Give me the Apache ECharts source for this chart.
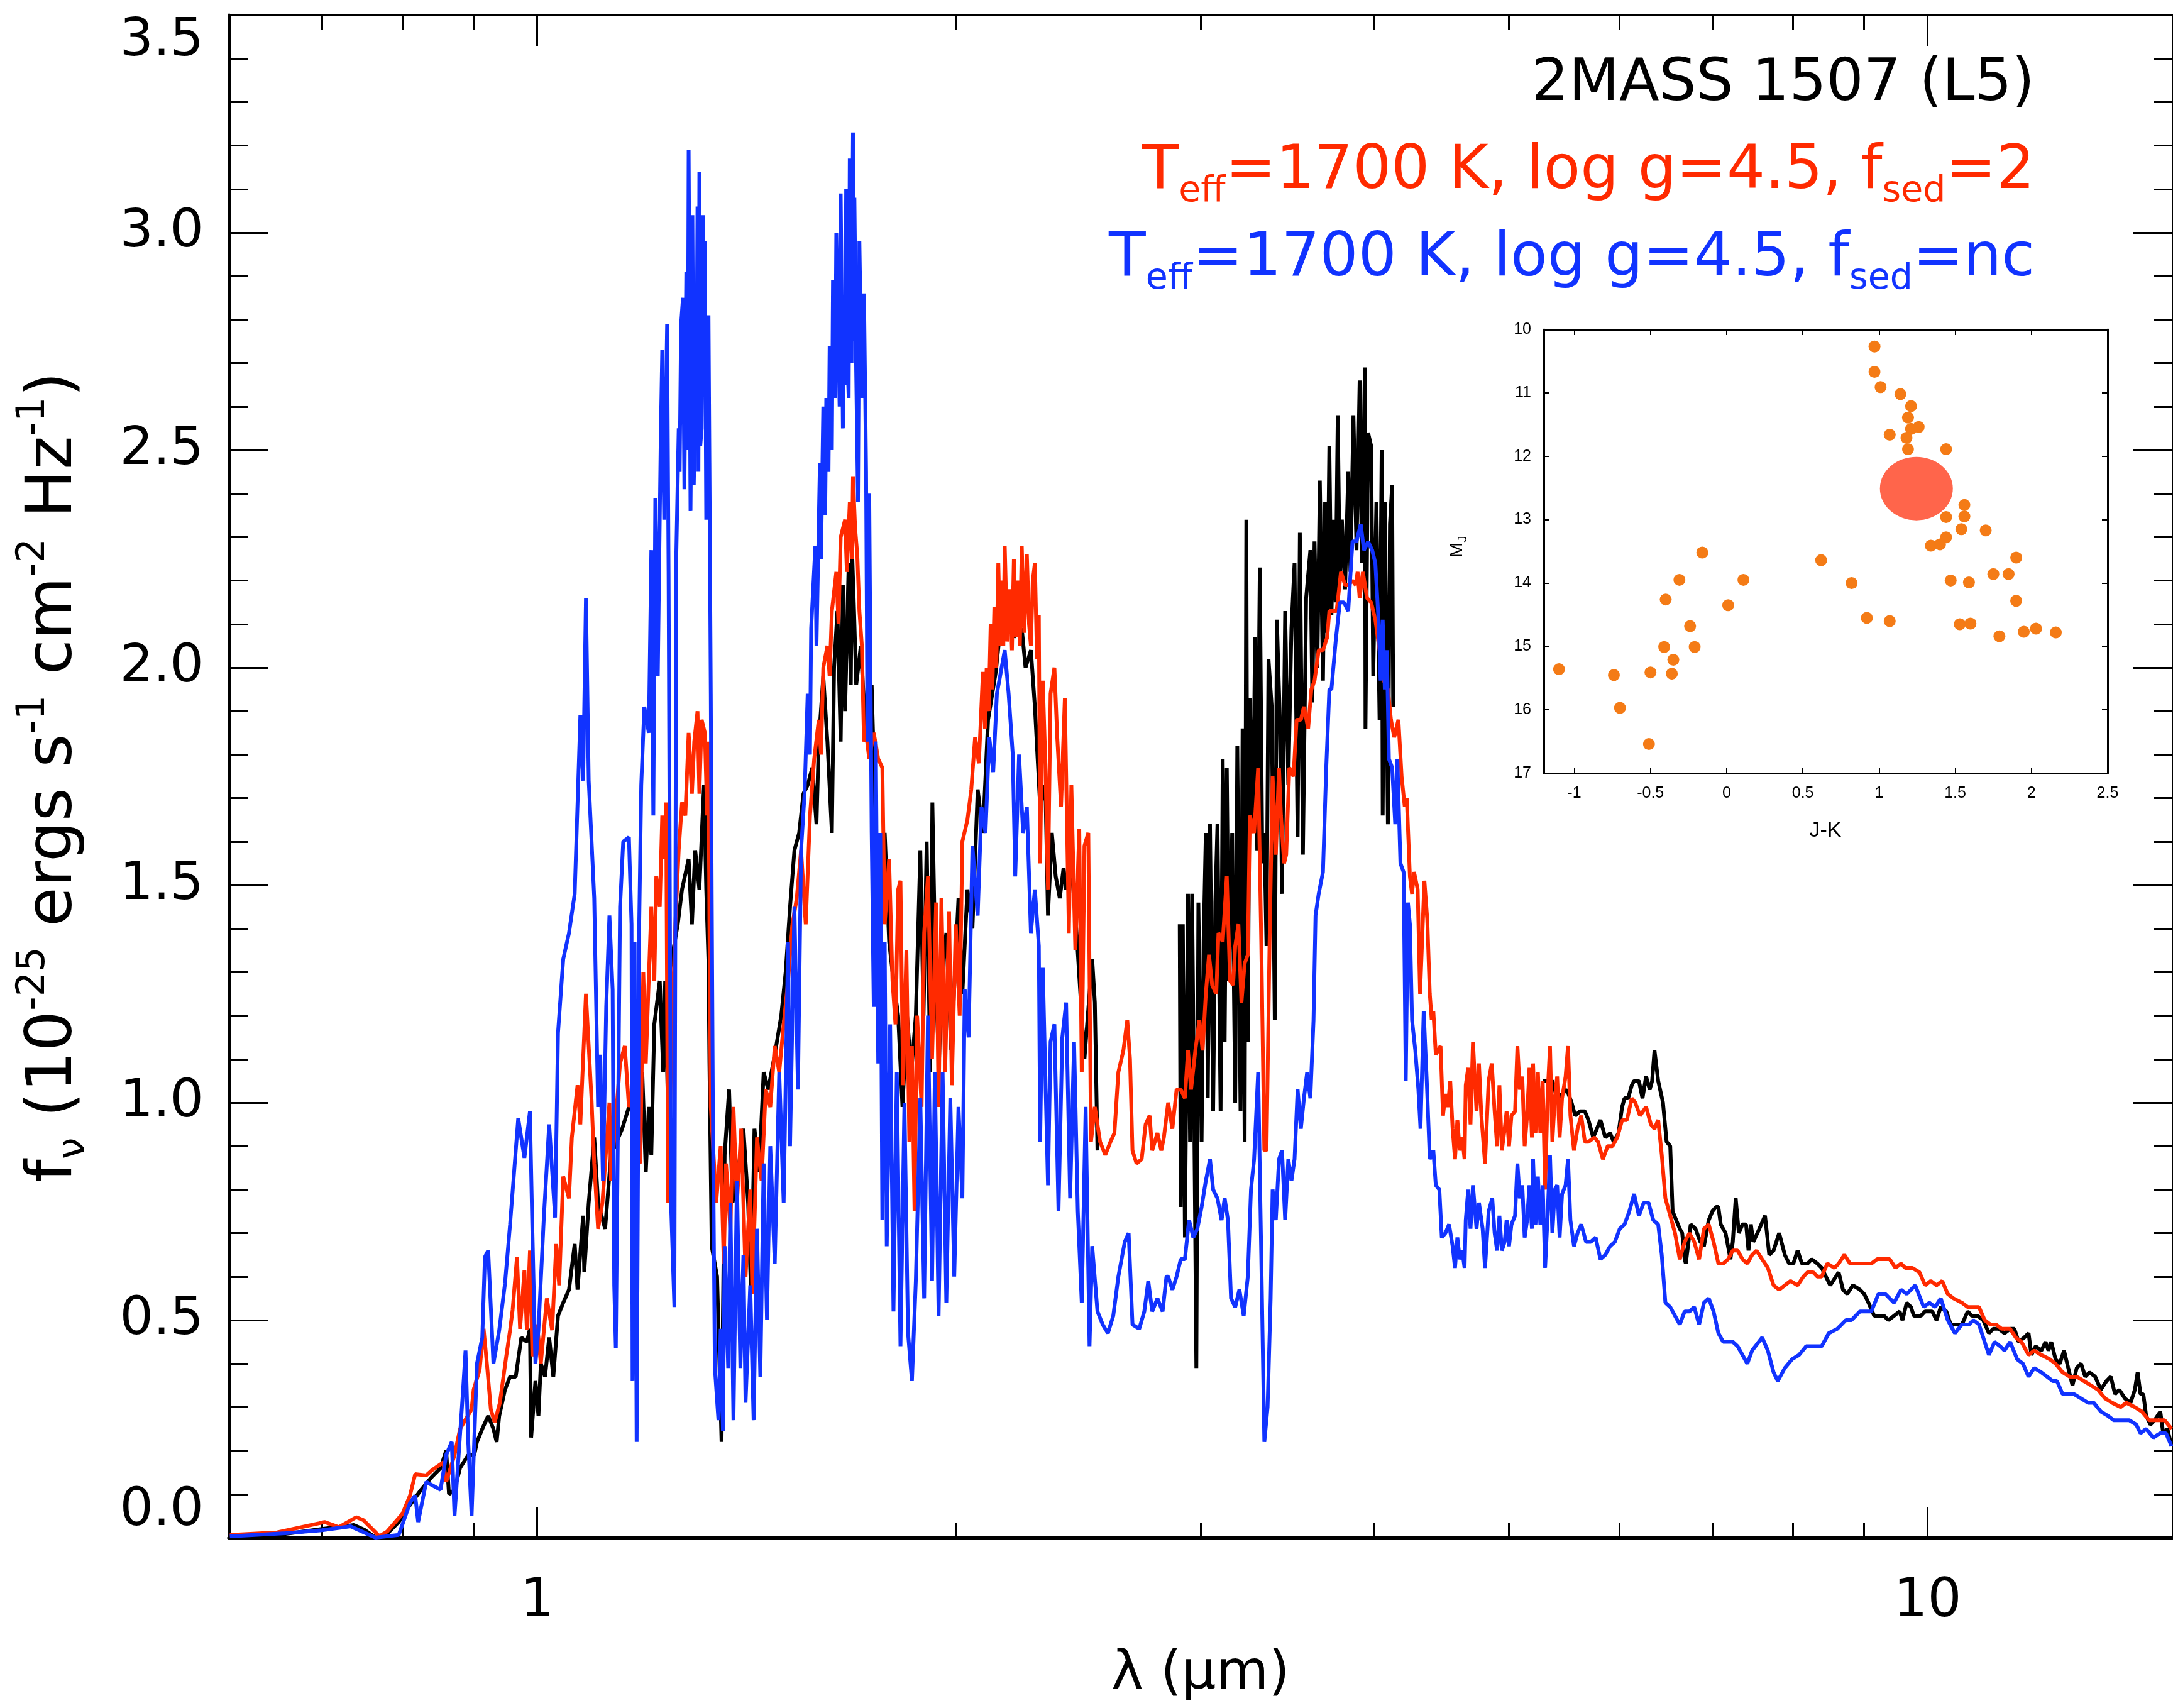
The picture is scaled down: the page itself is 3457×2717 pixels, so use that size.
<!DOCTYPE html>
<html>
<head>
<meta charset="utf-8">
<script src="https://cdn.jsdelivr.net/npm/echarts@6.0.0/dist/echarts.min.js"></script>
<style>
html, body { margin: 0; padding: 0; background: #fff; }
#main { width: 3457px; height: 2717px; }
</style>
</head>
<body>
<div id="main"></div>
<script>
// spectra: [wavelength (micron), f_nu (1e-25 ergs s-1 cm-2 Hz-1)]
// observed spectrum has gaps, so it is kept in three pieces
var blackSpecA = [
  [0.601,0.004],[0.650,0.006],[0.700,0.020],[0.738,0.029],[0.751,0.018],[0.765,0.000],[0.780,0.009],[0.795,0.036],
  [0.810,0.075],[0.825,0.110],[0.840,0.140],[0.852,0.160],[0.860,0.200],[0.864,0.100],[0.872,0.110],[0.880,0.160],
  [0.892,0.190],[0.901,0.190],[0.905,0.220],[0.913,0.250],[0.922,0.280],[0.930,0.250],[0.935,0.220],[0.939,0.280],
  [0.948,0.340],[0.956,0.370],[0.965,0.370],[0.974,0.460],[0.983,0.450],[0.988,0.480],[0.990,0.230],[0.997,0.360],
  [1.002,0.280],[1.006,0.400],[1.013,0.370],[1.020,0.460],[1.027,0.370],[1.035,0.510],[1.044,0.540],[1.054,0.570],
  [1.064,0.675],[1.069,0.570],[1.079,0.740],[1.081,0.610],[1.089,0.770],[1.099,0.920],[1.106,0.77],[1.119,0.71],
  [1.130,0.88],[1.151,0.94],[1.164,0.99],[1.190,1.07],[1.197,0.84],[1.203,0.99],[1.208,0.88],[1.214,1.18],
  [1.225,1.28],[1.232,1.07],[1.236,1.28],[1.241,1.03],[1.245,1.30],[1.262,1.41],[1.271,1.49],[1.285,1.56],
  [1.292,1.41],[1.299,1.58],[1.308,1.49],[1.318,1.73],[1.323,1.49],[1.328,1.32],[1.330,1.09],[1.335,0.67],
  [1.347,0.60],[1.357,0.22],[1.364,0.88],[1.374,1.03],[1.382,0.77],[1.397,0.86],[1.407,0.94],[1.418,0.77],
  [1.425,0.56],[1.433,0.94],[1.444,0.84],[1.455,1.07],[1.466,1.03],[1.482,1.11],[1.498,1.20],[1.509,1.30],
  [1.520,1.45],[1.531,1.58],[1.543,1.62],[1.554,1.71],[1.565,1.73],[1.577,1.77],[1.588,1.64],[1.594,1.83],
  [1.606,1.98],[1.617,1.83],[1.629,1.62],[1.635,2.00],[1.644,2.13],[1.653,1.83],[1.659,2.19],[1.665,1.90],
  [1.675,2.24],[1.681,1.96],[1.684,2.28],[1.690,2.13],[1.696,1.96],[1.709,2.05],[1.715,1.96],[1.727,1.83],
  [1.740,1.96],[1.752,1.62],[1.765,1.41],[1.778,1.62],[1.791,1.37],[1.804,1.28],[1.818,1.20],[1.831,0.99],
  [1.845,1.20],[1.858,1.07],[1.872,1.20],[1.886,1.58],[1.896,1.20],[1.906,1.60],[1.917,1.07],[1.924,1.69],
  [1.934,1.30],[1.945,1.09],[1.955,1.30],[1.969,1.39],[1.985,1.12],[2.009,1.47],[2.022,1.25],[2.039,1.49],
  [2.056,1.40],[2.074,1.72],[2.092,1.62],[2.110,1.88],[2.137,1.99],[2.155,2.10],[2.174,2.14],[2.202,2.07],
  [2.231,2.09],[2.245,2.00],[2.265,2.04],[2.280,1.91],[2.300,1.68],[2.320,1.73],[2.330,1.43],[2.345,1.62],
  [2.360,1.52],[2.376,1.47],[2.391,1.54],[2.401,1.49],[2.422,1.55],[2.443,1.39],[2.475,1.10],[2.507,1.33],
  [2.518,1.23],[2.529,0.89]
];
var blackSpecB = [
  [2.898,1.41],[2.903,0.76],[2.913,1.41],[2.923,0.69],[2.938,1.48],[2.948,0.91],[2.958,1.48],[2.969,0.94],
  [2.979,0.39],[2.989,1.46],[3.005,0.91],[3.015,1.37],[3.026,1.62],[3.036,1.01],[3.047,1.64],[3.063,0.98],
  [3.074,1.46],[3.085,1.64],[3.101,0.98],[3.112,1.79],[3.122,1.14],[3.133,1.77],[3.144,1.28],[3.161,1.62],
  [3.177,1.00],[3.188,1.82],[3.205,0.98],[3.216,1.86],[3.227,0.91],[3.236,2.34],[3.244,1.14],[3.255,1.93],
  [3.272,1.62],[3.283,2.07],[3.295,1.58],[3.309,2.23],[3.323,1.55],[3.334,1.62],[3.346,1.36],[3.357,2.02],
  [3.375,1.91],[3.392,1.19],[3.404,2.11],[3.421,1.88],[3.433,1.48],[3.451,2.13],[3.469,1.73],[3.487,2.09],
  [3.505,2.24],[3.523,1.61],[3.536,2.31],[3.554,1.57],[3.573,2.16],[3.598,2.27],[3.610,1.92],[3.623,2.29],
  [3.640,2.00],[3.655,2.43],[3.674,1.97],[3.687,2.38],[3.700,2.08],[3.713,2.51],[3.726,2.12],[3.739,2.34],
  [3.752,2.15],[3.765,2.58],[3.778,2.20],[3.791,2.34],[3.811,2.18],[3.831,2.45],[3.845,2.22],[3.864,2.58],
  [3.884,2.27],[3.904,2.66],[3.918,2.24],[3.938,2.69],[3.942,1.86],[3.959,2.54],[3.979,2.51],[3.993,1.98],
  [4.014,2.38],[4.035,1.88],[4.049,2.50],[4.056,1.66],[4.070,2.38],[4.091,1.64],[4.105,2.33],[4.120,2.42],
  [4.127,1.91]
];
var blackSpecC = [
  [5.287,1.05],[5.330,1.05],[5.372,1.05],[5.415,1.01],[5.459,1.02],[5.502,1.03],[5.546,1.00],[5.579,0.97],
  [5.624,0.98],[5.669,0.98],[5.703,0.96],[5.748,0.92],[5.783,0.94],[5.817,0.96],[5.864,0.92],[5.911,0.93],
  [5.946,0.91],[5.994,0.93],[6.030,0.99],[6.054,1.01],[6.090,1.01],[6.127,1.04],[6.151,1.05],[6.200,1.05],
  [6.237,1.01],[6.274,1.06],[6.312,1.03],[6.337,1.05],[6.362,1.12],[6.401,1.05],[6.452,1.00],[6.491,0.91],
  [6.530,0.90],[6.556,0.75],[6.595,0.73],[6.634,0.71],[6.661,0.70],[6.688,0.64],[6.701,0.63],[6.755,0.72],
  [6.809,0.71],[6.864,0.68],[6.905,0.67],[6.960,0.73],[7.002,0.75],[7.044,0.76],[7.072,0.76],[7.100,0.72],
  [7.157,0.70],[7.215,0.64],[7.243,0.68],[7.278,0.78],[7.316,0.70],[7.360,0.72],[7.404,0.72],[7.434,0.66],
  [7.463,0.72],[7.493,0.68],[7.569,0.71],[7.640,0.74],[7.694,0.65],[7.749,0.66],[7.821,0.70],[7.895,0.65],
  [7.951,0.63],[8.007,0.63],[8.064,0.66],[8.121,0.63],[8.198,0.63],[8.255,0.64],[8.333,0.63],[8.392,0.62],
  [8.451,0.60],[8.511,0.58],[8.591,0.60],[8.631,0.61],[8.693,0.57],[8.754,0.56],[8.837,0.58],[8.941,0.57],
  [9.004,0.56],[9.068,0.54],[9.154,0.51],[9.240,0.51],[9.305,0.51],[9.371,0.50],[9.460,0.51],[9.548,0.52],
  [9.593,0.50],[9.661,0.54],[9.729,0.53],[9.775,0.51],[9.890,0.51],[9.960,0.52],[10.078,0.52],[10.149,0.50],
  [10.221,0.53],[10.317,0.52],[10.390,0.49],[10.488,0.49],[10.587,0.49],[10.687,0.52],[10.762,0.51],[10.864,0.51],
  [10.966,0.50],[11.070,0.47],[11.148,0.48],[11.253,0.48],[11.359,0.47],[11.466,0.48],[11.547,0.48],[11.629,0.45],
  [11.738,0.46],[11.821,0.47],[11.877,0.42],[11.961,0.44],[12.074,0.43],[12.159,0.45],[12.216,0.43],[12.274,0.45],
  [12.361,0.41],[12.448,0.40],[12.536,0.43],[12.624,0.39],[12.713,0.35],[12.803,0.39],[12.894,0.40],[12.985,0.37],
  [13.077,0.38],[13.200,0.37],[13.324,0.34],[13.450,0.36],[13.545,0.37],[13.641,0.33],[13.737,0.34],[13.867,0.32],
  [13.997,0.31],[14.096,0.34],[14.162,0.38],[14.229,0.33],[14.296,0.33],[14.363,0.28],[14.465,0.26],[14.567,0.27],
  [14.704,0.29],[14.774,0.24],[14.878,0.25],[14.98,0.21]
];
// model, fsed=2
var redSpec = [
  [0.601,0.006],[0.650,0.012],[0.697,0.033],[0.703,0.036],[0.720,0.024],[0.741,0.047],[0.750,0.040],[0.770,0.003],
  [0.780,0.014],[0.800,0.055],[0.810,0.097],[0.817,0.146],[0.832,0.143],[0.840,0.155],[0.856,0.173],[0.860,0.128],
  [0.872,0.190],[0.880,0.250],[0.897,0.295],[0.900,0.340],[0.909,0.386],[0.915,0.480],[0.920,0.400],[0.926,0.295],
  [0.932,0.265],[0.940,0.310],[0.950,0.417],[0.956,0.477],[0.960,0.523],[0.967,0.645],[0.972,0.480],[0.979,0.614],
  [0.983,0.477],[0.988,0.660],[0.992,0.417],[1.000,0.490],[1.006,0.400],[1.016,0.550],[1.025,0.477],[1.032,0.675],
  [1.037,0.580],[1.044,0.830],[1.054,0.780],[1.059,0.920],[1.069,1.040],[1.074,0.950],[1.084,1.250],[1.089,1.130],
  [1.094,1.010],[1.099,0.860],[1.106,0.71],[1.114,0.77],[1.127,1.00],[1.130,0.82],[1.147,1.09],[1.156,1.13],
  [1.164,0.99],[1.182,1.07],[1.186,0.86],[1.192,1.30],[1.197,1.09],[1.208,1.45],[1.214,1.28],[1.218,1.52],
  [1.225,1.45],[1.230,1.66],[1.234,1.56],[1.238,1.69],[1.242,0.77],[1.248,1.09],[1.257,1.41],[1.264,1.58],
  [1.271,1.69],[1.278,1.66],[1.285,1.85],[1.292,1.71],[1.297,1.83],[1.304,1.90],[1.308,1.71],[1.313,1.88],
  [1.320,1.85],[1.325,1.66],[1.328,1.83],[1.330,1.41],[1.333,0.99],[1.338,0.90],[1.345,0.77],[1.355,0.90],
  [1.362,0.63],[1.367,0.86],[1.377,0.71],[1.384,0.99],[1.392,0.77],[1.402,0.94],[1.412,0.60],[1.423,0.80],
  [1.428,0.56],[1.439,0.92],[1.450,0.82],[1.460,1.03],[1.471,0.99],[1.482,1.13],[1.493,1.07],[1.504,1.18],
  [1.515,1.28],[1.526,1.41],[1.537,1.47],[1.548,1.58],[1.560,1.41],[1.571,1.66],[1.582,1.79],[1.594,1.88],
  [1.600,1.80],[1.606,2.00],[1.617,2.05],[1.623,1.98],[1.629,2.13],[1.641,2.22],[1.647,2.10],[1.653,2.30],
  [1.665,2.34],[1.670,2.22],[1.678,2.38],[1.684,2.25],[1.687,2.44],
  [1.693,2.32],[1.699,2.26],[1.705,2.13],[1.712,2.05],[1.718,1.83],[1.724,1.85],[1.733,1.79],[1.746,1.85],
  [1.759,1.79],[1.771,1.77],[1.778,1.41],[1.791,1.56],[1.801,1.28],[1.810,1.18],[1.818,1.49],[1.825,1.51],
  [1.833,1.04],[1.843,1.35],[1.852,0.91],[1.860,1.13],[1.868,0.75],[1.876,1.20],[1.890,0.99],[1.898,1.39],
  [1.910,1.52],[1.923,1.10],[1.936,1.46],[1.944,0.99],[1.953,1.47],[1.965,1.07],[1.978,1.44],[1.987,1.04],
  [2.000,1.41],[2.013,1.20],[2.022,1.60],[2.039,1.65],[2.052,1.72],[2.065,1.84],[2.078,1.78],[2.092,1.99],
  [2.099,1.86],[2.105,2.00],[2.112,1.90],[2.119,2.10],[2.125,1.95],[2.132,2.14],[2.139,2.00],[2.146,2.24],
  [2.153,2.05],[2.160,2.20],[2.164,2.05],[2.169,2.28],[2.178,2.06],[2.188,2.18],[2.195,2.04],[2.202,2.25],
  [2.210,2.07],[2.217,2.20],[2.224,2.05],[2.231,2.28],[2.240,2.08],[2.250,2.26],[2.258,2.10],[2.265,2.05],
  [2.272,2.20],[2.280,2.24],[2.288,2.02],[2.295,2.12],[2.300,1.55],[2.310,1.97],[2.320,1.78],[2.330,1.49],
  [2.340,1.94],[2.355,2.00],[2.366,1.84],[2.381,1.68],[2.396,1.93],[2.412,1.39],[2.422,1.73],[2.438,1.35],
  [2.454,1.63],[2.464,1.07],[2.475,1.59],[2.491,1.62],[2.502,0.91],[2.518,0.99],[2.540,0.91],[2.562,0.88],
  [2.584,0.91],[2.601,0.93],[2.618,1.07],[2.640,1.12],[2.657,1.19],[2.669,1.10],[2.680,0.89],[2.698,0.86],
  [2.721,0.87],[2.739,0.95],[2.757,0.97],[2.769,0.89],[2.793,0.93],[2.811,0.89],[2.823,0.92],[2.843,1.00],
  [2.863,0.94],[2.883,1.03],[2.903,1.03],[2.923,1.01],[2.938,1.12],[2.953,1.03],[2.974,1.12],[2.994,1.19],
  [3.010,1.12],[3.026,1.25],[3.042,1.34],[3.058,1.27],[3.079,1.25],[3.090,1.39],[3.112,1.37],[3.133,1.52],
  [3.150,1.28],[3.166,1.27],[3.177,1.36],[3.194,1.41],[3.210,1.23],[3.227,1.32],[3.244,1.34],[3.255,1.66],
  [3.278,1.62],[3.300,1.77],[3.317,1.37],[3.334,0.89],[3.346,0.89],[3.363,1.37],[3.380,1.75],[3.398,1.57],
  [3.416,1.77],[3.427,1.66],[3.445,1.55],[3.457,1.57],[3.475,1.77],[3.499,1.75],[3.517,1.88],[3.542,1.88],
  [3.560,1.91],[3.585,1.86],[3.604,1.95],[3.623,1.97],[3.648,2.04],[3.674,2.04],[3.700,2.07],[3.713,2.13],
  [3.739,2.13],[3.758,2.13],[3.785,2.22],[3.811,2.19],[3.831,2.19],[3.858,2.20],[3.878,2.19],[3.891,2.22],
  [3.904,2.16],[3.925,2.22],[3.952,2.16],[3.979,2.15],[4.007,2.11],[4.035,2.04],[4.063,1.97],[4.091,1.95],
  [4.112,1.88],[4.134,1.84],[4.163,1.88],[4.185,1.75],[4.207,1.68],[4.221,1.70],[4.243,1.52],[4.258,1.48],
  [4.272,1.53],[4.298,1.49],[4.315,1.25],[4.333,1.40],[4.346,1.51],[4.367,1.42],[4.385,1.25],[4.399,1.19],
  [4.411,1.21],[4.429,1.11],[4.446,1.12],[4.464,1.13],[4.482,0.97],[4.500,1.02],[4.518,0.99],[4.536,1.05],
  [4.554,0.94],[4.572,0.87],[4.590,0.96],[4.608,0.89],[4.627,0.92],[4.645,0.87],[4.654,1.04],[4.673,1.08],
  [4.691,0.95],[4.710,1.14],[4.738,0.98],[4.757,1.09],[4.776,0.97],[4.805,0.86],[4.834,1.05],[4.859,1.09],
  [4.882,0.98],[4.902,0.90],[4.921,1.04],[4.941,0.89],[4.964,0.94],[4.980,0.98],[5.000,0.90],[5.020,0.97],
  [5.050,0.98],[5.070,1.13],[5.090,1.03],[5.111,1.06],[5.131,0.90],[5.152,0.97],[5.172,1.08],[5.193,0.92],
  [5.203,1.09],[5.224,0.93],[5.245,1.07],[5.266,0.93],[5.287,1.05],[5.308,0.80],[5.330,1.02],[5.351,1.13],
  [5.372,0.91],[5.394,1.01],[5.415,1.06],[5.437,0.92],[5.459,1.01],[5.491,1.06],[5.513,1.13],[5.535,0.97],
  [5.568,0.89],[5.601,0.94],[5.635,0.97],[5.669,0.91],[5.703,0.91],[5.760,0.92],[5.794,0.91],[5.841,0.87],
  [5.887,0.90],[5.934,0.90],[5.982,0.92],[6.030,0.96],[6.078,0.96],[6.127,1.01],[6.163,1.00],[6.212,0.97],
  [6.274,0.99],[6.324,0.95],[6.362,0.94],[6.401,0.96],[6.439,0.88],[6.478,0.78],[6.530,0.74],[6.582,0.70],
  [6.634,0.64],[6.688,0.68],[6.741,0.70],[6.795,0.68],[6.850,0.64],[6.905,0.71],[6.960,0.72],[7.016,0.68],
  [7.072,0.63],[7.129,0.63],[7.186,0.64],[7.243,0.66],[7.301,0.66],[7.360,0.64],[7.419,0.63],[7.478,0.65],
  [7.533,0.66],[7.604,0.64],[7.676,0.62],[7.749,0.58],[7.821,0.57],[7.895,0.58],[7.970,0.59],[8.064,0.58],
  [8.140,0.60],[8.198,0.61],[8.275,0.61],[8.333,0.60],[8.392,0.60],[8.471,0.63],[8.571,0.62],[8.631,0.63],
  [8.713,0.65],[8.796,0.63],[8.899,0.63],[8.983,0.63],[9.111,0.63],[9.197,0.64],[9.305,0.64],[9.393,0.64],
  [9.482,0.62],[9.570,0.63],[9.638,0.62],[9.752,0.62],[9.867,0.61],[9.960,0.58],[10.054,0.59],[10.149,0.58],
  [10.245,0.59],[10.341,0.56],[10.439,0.55],[10.587,0.54],[10.687,0.53],[10.788,0.53],[10.889,0.53],[10.992,0.50],
  [11.096,0.49],[11.200,0.49],[11.306,0.48],[11.466,0.48],[11.574,0.46],[11.683,0.45],[11.821,0.42],[11.933,0.43],
  [12.074,0.42],[12.245,0.41],[12.361,0.40],[12.507,0.38],[12.654,0.37],[12.803,0.37],[12.954,0.36],[13.107,0.35],
  [13.262,0.34],[13.418,0.32],[13.577,0.31],[13.769,0.30],[13.899,0.31],[14.096,0.30],[14.262,0.29],[14.431,0.27],
  [14.635,0.27],[14.808,0.27],[14.98,0.25]
];
// model, no clouds
var blueSpec = [
  [0.601,0.003],[0.659,0.010],[0.700,0.017],[0.734,0.026],[0.765,0.000],[0.795,0.006],[0.810,0.080],[0.817,0.097],
  [0.821,0.036],[0.832,0.128],[0.852,0.110],[0.860,0.190],[0.868,0.220],[0.872,0.050],[0.884,0.330],[0.888,0.430],
  [0.892,0.220],[0.897,0.050],[0.905,0.400],[0.913,0.460],[0.917,0.645],[0.922,0.660],[0.930,0.400],[0.939,0.477],
  [0.948,0.584],[0.956,0.720],[0.969,0.964],[0.979,0.873],[0.988,0.980],[0.992,0.705],[0.997,0.400],[1.002,0.477],
  [1.011,0.736],[1.020,0.950],[1.030,0.736],[1.035,1.160],[1.044,1.330],[1.054,1.390],[1.064,1.480],[1.074,1.890],
  [1.079,1.740],[1.084,2.160],[1.089,1.740],[1.099,1.470],[1.106,0.99],[1.110,1.11],[1.115,0.82],[1.121,1.22],
  [1.127,1.43],[1.133,1.26],[1.136,0.58],[1.139,0.435],[1.147,1.45],[1.153,1.60],[1.164,1.61],[1.169,1.41],
  [1.171,0.36],[1.175,1.37],[1.179,0.22],[1.184,1.41],[1.188,1.73],[1.194,1.91],[1.203,1.85],[1.208,2.27],
  [1.212,1.66],[1.216,2.39],[1.221,1.98],[1.227,2.53],[1.230,2.73],[1.234,2.34],[1.240,2.79],[1.243,2.22],
  [1.248,0.77],[1.255,0.53],[1.259,2.26],[1.264,2.55],[1.266,2.45],[1.269,2.79],[1.273,2.85],[1.276,2.41],
  [1.280,2.91],[1.283,2.50],[1.285,3.19],[1.289,2.36],[1.291,2.62],[1.293,3.04],[1.296,2.42],[1.299,2.60],
  [1.302,2.66],[1.304,3.06],[1.306,2.45],[1.308,3.14],[1.310,2.51],[1.313,2.55],[1.316,3.04],[1.318,2.70],
  [1.320,2.98],[1.323,2.34],[1.326,2.55],[1.328,2.81],[1.330,2.47],[1.333,1.94],[1.335,1.49],[1.338,0.92],[1.342,0.39],
  [1.350,0.27],[1.355,0.48],[1.360,0.245],[1.364,0.67],[1.372,0.39],[1.377,0.77],[1.384,0.27],[1.392,0.82],
  [1.400,0.39],[1.407,0.65],[1.412,0.31],[1.423,0.58],[1.431,0.27],[1.439,0.71],[1.447,0.37],[1.455,0.86],
  [1.463,0.50],[1.471,0.90],[1.482,0.63],[1.493,1.07],[1.504,0.77],[1.515,1.37],[1.520,0.90],[1.531,1.45],
  [1.540,1.03],[1.548,1.58],[1.557,1.71],[1.565,1.94],[1.571,1.80],[1.574,2.09],[1.585,2.28],[1.588,2.05],
  [1.597,2.47],[1.600,2.25],[1.606,2.60],[1.611,2.35],[1.614,2.62],[1.620,2.45],[1.623,2.74],[1.629,2.50],
  [1.632,2.89],[1.638,2.62],[1.641,3.00],[1.647,2.74],[1.650,2.60],[1.653,3.09],[1.659,2.55],[1.662,2.83],
  [1.665,2.65],[1.668,3.10],[1.671,2.72],[1.675,2.62],[1.678,3.17],[1.683,2.70],[1.684,2.91],[1.687,3.23],
  [1.690,2.75],[1.691,3.08],[1.696,2.68],[1.701,2.38],[1.705,2.98],
  [1.712,2.62],[1.718,2.86],[1.724,2.45],[1.728,1.83],[1.733,2.40],[1.740,1.62],[1.746,1.22],[1.752,1.83],
  [1.759,1.09],[1.765,1.62],[1.771,0.73],[1.778,1.37],[1.784,0.67],[1.794,1.18],[1.804,0.52],[1.814,1.07],
  [1.825,0.44],[1.837,1.00],[1.848,0.47],[1.860,0.36],[1.872,0.59],[1.886,1.01],[1.898,0.55],[1.910,1.20],
  [1.923,0.59],[1.932,1.07],[1.944,0.51],[1.957,1.07],[1.969,0.54],[1.982,1.01],[1.995,0.60],[2.009,0.99],
  [2.022,0.78],[2.030,1.26],[2.043,1.15],[2.056,1.59],[2.074,1.43],[2.087,1.68],[2.101,1.62],[2.114,1.84],
  [2.128,1.76],[2.141,1.94],[2.155,1.99],[2.169,2.04],[2.183,1.94],[2.198,1.80],[2.207,1.52],[2.221,1.80],
  [2.236,1.62],[2.250,1.68],[2.265,1.39],[2.280,1.49],[2.295,1.36],[2.300,0.91],[2.310,1.31],[2.330,0.81],
  [2.340,1.14],[2.355,1.18],[2.371,0.75],[2.386,1.15],[2.401,1.23],[2.417,0.78],[2.433,1.14],[2.448,0.75],
  [2.464,0.54],[2.480,0.99],[2.496,0.44],[2.507,0.67],[2.529,0.52],[2.551,0.49],[2.573,0.47],[2.596,0.51],
  [2.618,0.60],[2.646,0.68],[2.663,0.70],[2.680,0.49],[2.710,0.48],[2.733,0.52],[2.751,0.59],[2.769,0.52],
  [2.793,0.55],[2.817,0.52],[2.835,0.60],[2.843,0.60],[2.863,0.57],[2.883,0.60],[2.903,0.64],[2.923,0.64],
  [2.943,0.73],[2.964,0.69],[2.984,0.71],[3.005,0.76],[3.026,0.82],[3.047,0.87],[3.063,0.80],[3.085,0.78],
  [3.106,0.73],[3.122,0.78],[3.139,0.73],[3.155,0.55],[3.177,0.53],[3.199,0.57],[3.222,0.51],[3.244,0.60],
  [3.261,0.80],[3.278,0.87],[3.300,1.07],[3.317,0.65],[3.334,0.22],[3.352,0.30],[3.369,0.55],[3.380,0.80],
  [3.398,0.73],[3.416,0.87],[3.433,0.89],[3.451,0.73],[3.469,0.87],[3.487,0.82],[3.505,0.87],[3.523,1.03],
  [3.542,0.94],[3.560,1.01],[3.579,1.07],[3.598,1.01],[3.617,1.19],[3.629,1.43],[3.648,1.48],[3.674,1.53],
  [3.694,1.77],[3.713,1.95],[3.726,1.95],[3.752,2.06],[3.778,2.15],[3.804,2.15],[3.831,2.13],[3.858,2.29],
  [3.884,2.29],[3.911,2.33],[3.932,2.27],[3.959,2.29],[3.986,2.27],[4.007,2.24],[4.028,2.11],[4.042,1.97],
  [4.056,2.11],[4.070,1.95],[4.084,2.04],[4.098,1.79],[4.120,1.77],[4.141,1.64],[4.156,1.79],[4.177,1.55],
  [4.199,1.53],[4.214,1.05],[4.229,1.46],[4.243,1.41],[4.258,1.19],[4.281,1.12],[4.303,1.03],[4.318,0.94],
  [4.341,1.21],[4.363,1.05],[4.385,0.87],[4.411,0.89],[4.429,0.81],[4.455,0.80],[4.473,0.69],[4.500,0.70],
  [4.527,0.72],[4.554,0.67],[4.572,0.62],[4.590,0.69],[4.608,0.64],[4.627,0.66],[4.645,0.62],[4.654,0.73],
  [4.673,0.80],[4.691,0.71],[4.710,0.81],[4.738,0.71],[4.757,0.77],[4.786,0.71],[4.805,0.62],[4.834,0.75],
  [4.863,0.78],[4.882,0.70],[4.902,0.66],[4.921,0.74],[4.941,0.66],[4.964,0.68],[4.980,0.73],[5.000,0.67],
  [5.020,0.72],[5.050,0.74],[5.070,0.86],[5.090,0.78],[5.111,0.81],[5.131,0.69],[5.152,0.73],[5.172,0.81],
  [5.193,0.71],[5.203,0.87],[5.224,0.72],[5.245,0.83],[5.266,0.72],[5.287,0.81],[5.308,0.62],[5.330,0.74],
  [5.351,0.88],[5.372,0.70],[5.394,0.80],[5.415,0.81],[5.437,0.69],[5.459,0.79],[5.491,0.81],[5.513,0.87],
  [5.535,0.73],[5.568,0.67],[5.601,0.70],[5.635,0.72],[5.680,0.68],[5.725,0.68],[5.771,0.69],[5.817,0.64],
  [5.864,0.65],[5.911,0.67],[5.958,0.68],[6.006,0.71],[6.054,0.72],[6.102,0.75],[6.151,0.79],[6.200,0.74],
  [6.249,0.77],[6.299,0.77],[6.349,0.73],[6.401,0.72],[6.439,0.65],[6.478,0.54],[6.530,0.53],[6.582,0.51],
  [6.634,0.49],[6.688,0.52],[6.741,0.52],[6.795,0.53],[6.850,0.49],[6.905,0.54],[6.960,0.55],[7.016,0.52],
  [7.072,0.47],[7.129,0.45],[7.186,0.45],[7.243,0.45],[7.301,0.44],[7.360,0.42],[7.419,0.40],[7.478,0.43],
  [7.604,0.46],[7.676,0.43],[7.749,0.38],[7.803,0.36],[7.895,0.39],[7.989,0.41],[8.083,0.42],[8.178,0.44],
  [8.294,0.44],[8.392,0.44],[8.491,0.47],[8.611,0.48],[8.734,0.50],[8.816,0.50],[8.941,0.52],[9.111,0.52],
  [9.219,0.56],[9.327,0.56],[9.460,0.54],[9.570,0.57],[9.661,0.56],[9.798,0.58],[9.937,0.53],[10.03,0.54],
  [10.125,0.53],[10.221,0.55],[10.341,0.50],[10.463,0.47],[10.587,0.49],[10.712,0.49],[10.788,0.50],[10.889,0.49],
  [10.992,0.45],[11.070,0.42],[11.174,0.45],[11.279,0.44],[11.359,0.43],[11.466,0.45],[11.601,0.41],[11.711,0.40],
  [11.821,0.37],[11.933,0.39],[12.074,0.38],[12.188,0.37],[12.303,0.36],[12.390,0.36],[12.507,0.33],[12.654,0.33],
  [12.743,0.33],[12.894,0.32],[13.046,0.31],[13.169,0.31],[13.324,0.29],[13.481,0.28],[13.609,0.27],[13.802,0.27],
  [13.964,0.27],[14.129,0.26],[14.229,0.24],[14.363,0.25],[14.533,0.23],[14.704,0.24],[14.843,0.24],[14.98,0.21]
];

// tick positions
var xMajorTicks = [1, 10];
var xMinorTicks = [0.7, 0.8, 0.9, 2, 3, 4, 5, 6, 7, 8, 9];
var insetXTicks = [-1, -0.5, 0, 0.5, 1, 1.5, 2, 2.5];

// inset colour-magnitude diagram
var jk = [0.97,0.97,1.01,1.14,1.21,1.19,1.26,1.21,1.07,1.18,1.19,1.44,1.56,1.44,1.56,1.54,1.70,1.44,1.34,1.40,
  -0.16,0.62,1.90,1.75,1.85,-0.31,0.11,0.82,1.47,1.59,-0.40,0.01,1.90,-0.24,0.92,1.07,1.53,1.60,1.79,1.95,2.03,2.16,
  -0.41,-0.21,-0.35,-1.10,-0.74,-0.50,-0.36,-0.70,-0.51];
var mj = [10.27,10.67,10.91,11.02,11.21,11.39,11.54,11.57,11.66,11.71,11.89,11.89,12.77,12.96,12.95,13.15,13.17,13.28,13.41,13.39,
  13.52,13.64,13.60,13.86,13.86,13.95,13.95,14.00,13.96,13.99,14.26,14.35,14.28,14.68,14.55,14.60,14.65,14.64,14.84,14.77,14.72,14.78,
  15.01,15.01,15.21,15.36,15.45,15.41,15.43,15.97,16.54];
var target = [1.245, 12.51];

var RED = '#ff2a00';
var BLUE = '#1133ff';
var FONT = 'DejaVu Sans';

var chart = echarts.init(document.getElementById('main'));

function logAxis(pos, ticks, len, lineW, showLabel) {
  return {
    type: 'log', logBase: 10, gridIndex: 0, position: pos, min: 0.6, max: 15,
    axisLine: { show: true, onZero: false, lineStyle: { color: '#000', width: lineW } },
    axisTick: { show: true, inside: true, length: len, customValues: ticks, lineStyle: { color: '#000', width: 3 } },
    axisLabel: { show: showLabel, customValues: ticks, margin: 60, fontSize: 85, fontFamily: FONT, color: '#000' },
    splitLine: { show: false }
  };
}

function fluxAxis(pos, lineW, showLabel) {
  return {
    type: 'value', gridIndex: 0, position: pos, min: 0, max: 3.5, interval: 0.5,
    axisLine: { show: true, onZero: false, lineStyle: { color: '#000', width: lineW } },
    axisTick: { show: true, inside: true, length: 62, lineStyle: { color: '#000', width: 3 } },
    minorTick: { show: true, splitNumber: 5, length: 30, lineStyle: { color: '#000', width: 3 } },
    axisLabel: {
      show: showLabel, margin: 40, fontSize: 84, fontFamily: FONT, color: '#000',
      formatter: function (v) { return v.toFixed(1); },
      verticalAlignMinLabel: 'bottom', verticalAlignMaxLabel: 'top'
    },
    splitLine: { show: false }
  };
}

function insetX(pos, showLabel) {
  return {
    type: 'value', gridIndex: 1, position: pos, min: -1.2, max: 2.5,
    axisLine: { show: true, onZero: false, lineStyle: { color: '#000', width: 3 } },
    axisTick: { show: true, inside: true, length: 9, customValues: insetXTicks, lineStyle: { color: '#000', width: 2 } },
    axisLabel: { show: showLabel, customValues: insetXTicks, margin: 20, fontSize: 25, fontFamily: 'Liberation Sans', color: '#000' },
    splitLine: { show: false }
  };
}

function insetY(pos, showLabel) {
  return {
    type: 'value', gridIndex: 1, position: pos, min: 10, max: 17, interval: 1, inverse: true,
    axisLine: { show: true, onZero: false, lineStyle: { color: '#000', width: 3 } },
    axisTick: { show: true, inside: true, length: 9, lineStyle: { color: '#000', width: 2 } },
    axisLabel: { show: showLabel, margin: 20, fontSize: 25, fontFamily: 'Liberation Sans', color: '#000' },
    splitLine: { show: false }
  };
}

function specLine(data, color) {
  return {
    type: 'line', xAxisIndex: 0, yAxisIndex: 0, data: data,
    showSymbol: false, symbol: 'none', clip: true, silent: true,
    lineStyle: { color: color, width: 6 }
  };
}

var legendRich = {
  n: { fontSize: 96, fontFamily: FONT, lineHeight: 120 },
  s: { fontSize: 57, fontFamily: FONT, lineHeight: 68, verticalAlign: 'bottom' }
};

var option = {
  animation: false,
  backgroundColor: '#fff',
  textStyle: { fontFamily: FONT },
  grid: [
    { left: 364, top: 24, width: 3092, height: 2422 },
    { left: 2456, top: 524, width: 897, height: 706, show: true, backgroundColor: '#fff', borderWidth: 0 }
  ],
  xAxis: [
    logAxis('bottom', xMajorTicks, 49, 5, true),
    logAxis('bottom', xMinorTicks, 24, 5, false),
    logAxis('top', xMajorTicks, 49, 3, false),
    logAxis('top', xMinorTicks, 24, 3, false),
    insetX('bottom', true),
    insetX('top', false)
  ],
  yAxis: [
    fluxAxis('left', 5, true),
    fluxAxis('right', 3, false),
    insetY('left', true),
    insetY('right', false)
  ],
  series: [
    specLine(blackSpecA, '#000'),
    specLine(blackSpecB, '#000'),
    specLine(blackSpecC, '#000'),
    specLine(redSpec, RED),
    specLine(blueSpec, BLUE),
    {
      type: 'scatter', xAxisIndex: 4, yAxisIndex: 2, silent: true,
      data: jk.map(function (v, i) { return [v, mj[i]]; }),
      symbol: 'circle', symbolSize: 19, itemStyle: { color: '#f47b16', opacity: 1 }
    },
    {
      type: 'scatter', xAxisIndex: 4, yAxisIndex: 2, silent: true, z: 3,
      data: [target], symbol: 'circle', symbolSize: [116, 101], itemStyle: { color: '#ff654b', opacity: 1 }
    }
  ],
  graphic: [
    { type: 'text', x: 3237, y: 135, style: { text: '2MASS 1507 (L5)', fill: '#000', font: '93px "DejaVu Sans"', align: 'right', verticalAlign: 'middle' } },
    { type: 'text', x: 3237, y: 274, style: { text: '{n|T}{s|eff}{n|=1700 K, log g=4.5, f}{s|sed}{n|=2}', fill: RED, rich: legendRich, align: 'right', verticalAlign: 'middle' } },
    { type: 'text', x: 3237, y: 413, style: { text: '{n|T}{s|eff}{n|=1700 K, log g=4.5, f}{s|sed}{n|=nc}', fill: BLUE, rich: legendRich, align: 'right', verticalAlign: 'middle' } },
    {
      type: 'text', x: 86, y: 1236, rotation: Math.PI / 2,
      style: {
        text: '{n|f}{sub|\u03bd}{n| (10}{sup|-25}{n| ergs s}{sup|-1}{n| cm}{sup|-2}{n| Hz}{sup|-1}{n|)}',
        fill: '#000', align: 'center', verticalAlign: 'middle',
        rich: {
          n: { fontSize: 102, fontFamily: FONT, lineHeight: 126 },
          sup: { fontSize: 62, fontFamily: FONT, lineHeight: 62, verticalAlign: 'top' },
          sub: { fontSize: 62, fontFamily: FONT, lineHeight: 72, verticalAlign: 'bottom' }
        }
      }
    },
    { type: 'text', x: 1910, y: 2664, style: { text: '\u03bb (\u03bcm)', fill: '#000', font: '86px "DejaVu Sans"', align: 'center', verticalAlign: 'middle' } },
    { type: 'text', x: 2904, y: 1322, style: { text: 'J-K', fill: '#000', font: '34px "Liberation Sans"', align: 'center', verticalAlign: 'middle' } },
    {
      type: 'text', x: 2318, y: 870, rotation: Math.PI / 2,
      style: {
        text: '{n|M}{s|J}', fill: '#000', align: 'center', verticalAlign: 'middle',
        rich: {
          n: { fontSize: 30, fontFamily: 'Liberation Sans', lineHeight: 38 },
          s: { fontSize: 20, fontFamily: 'Liberation Sans', lineHeight: 24, verticalAlign: 'bottom' }
        }
      }
    }
  ]
};

chart.setOption(option);
</script>
</body>
</html>
